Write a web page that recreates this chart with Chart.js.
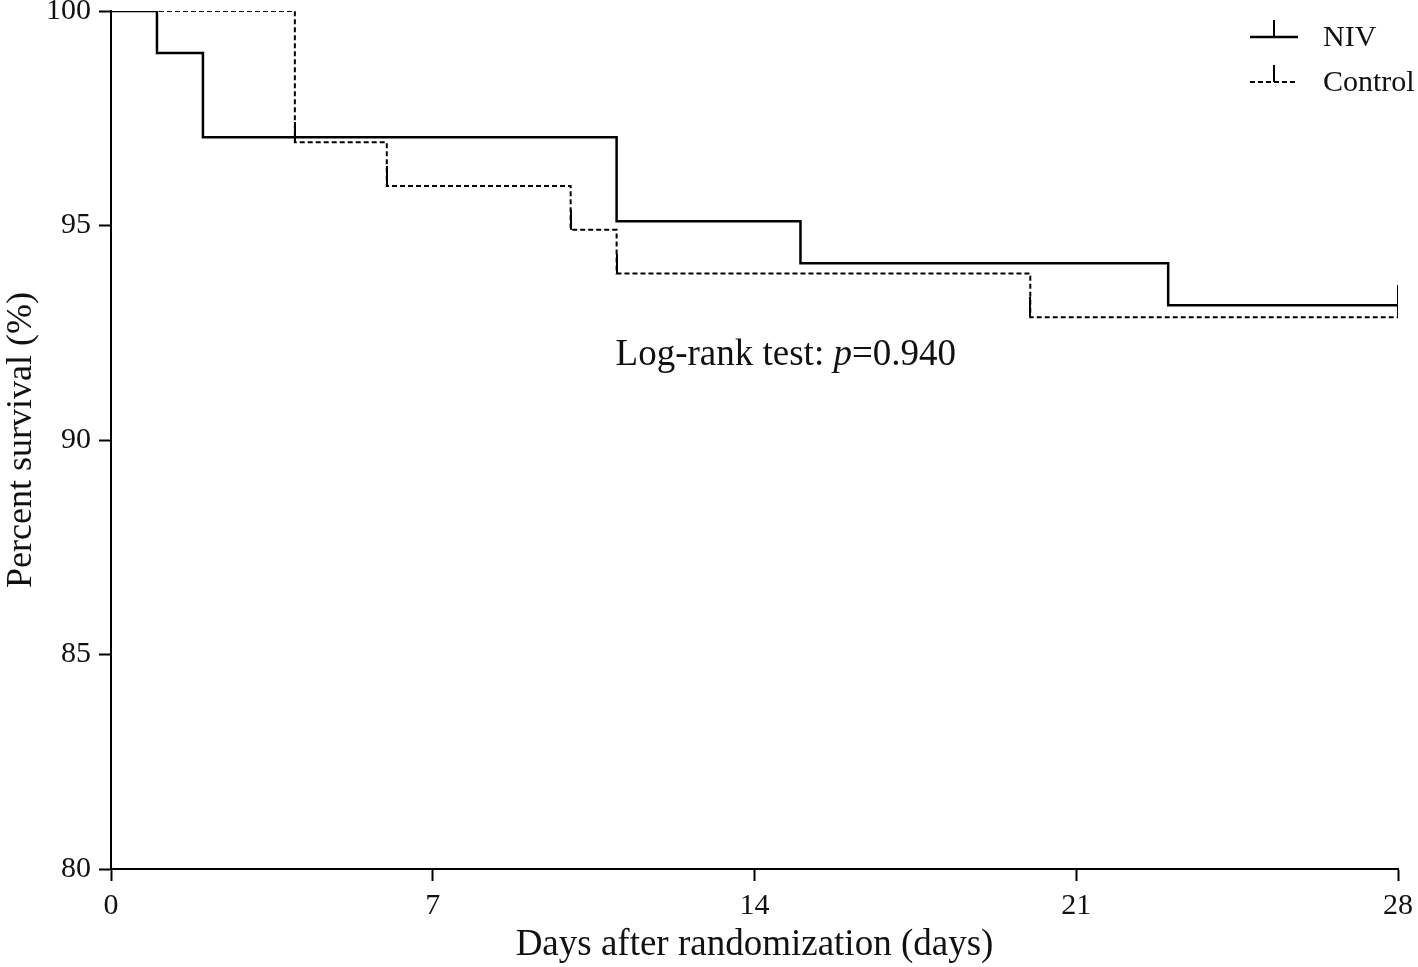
<!DOCTYPE html>
<html>
<head>
<meta charset="utf-8">
<script src="https://cdn.jsdelivr.net/npm/chart.js@4.4.1/dist/chart.umd.min.js"></script>
<style>
  html, body { margin: 0; padding: 0; background: #ffffff; }
  #wrap { width: 1418px; height: 967px; position: relative; }
</style>
</head>
<body>
<div id="wrap"><canvas id="c" width="1418" height="967"></canvas></div>
<script>
// ---- Data ----
const nivDays      = [0, 1, 2, 11, 15, 23, 28];
const nivSurvival  = [100, 99.02, 97.06, 95.10, 94.12, 93.14, 93.14];
const ctlDays      = [0, 4, 6, 10, 11, 20, 28];
const ctlSurvival  = [100, 96.94, 95.92, 94.90, 93.88, 92.86, 92.86];
const nivCensorDays = [28];
const ctlCensorDays = [4, 6, 10, 11, 20, 28];
const xTicks = [0, 7, 14, 21, 28];
const yTicks = [80, 85, 90, 95, 100];
const seriesLabels = ['NIV', 'Control'];
const annotationText = ['Log-rank test: ', 'p', '=0.940'];

const SERIF = '"Liberation Serif", "Times New Roman", serif';

function kmValue(days, surv, d) {
  let v = surv[0];
  for (let i = 0; i < days.length; i++) if (days[i] <= d) v = surv[i];
  return v;
}

// upward censor tick image
function censorImage() {
  const c = document.createElement('canvas');
  c.width = 2; c.height = 40;
  const g = c.getContext('2d');
  g.fillStyle = '#000';
  g.fillRect(0, 0, 2, 20);
  return c;
}
const tickImg = censorImage();

const legendPlugin = {
  id: 'kmLegend',
  afterDraw(chart) {
    const ctx = chart.ctx;
    const items = chart.data.datasets.filter(d => d.isMain);
    const x0 = 1250, x1 = 1298, tx = 1323;
    const ys = [37, 82];
    ctx.save();
    items.forEach((ds, i) => {
      const y = ys[i];
      ctx.strokeStyle = '#000';
      ctx.lineWidth = ds.borderWidth;
      ctx.setLineDash(ds.borderDash || []);
      ctx.beginPath(); ctx.moveTo(x0, y); ctx.lineTo(x1, y); ctx.stroke();
      ctx.setLineDash([]);
      ctx.lineWidth = 2;
      ctx.beginPath(); ctx.moveTo(1274, y); ctx.lineTo(1274, y - 17); ctx.stroke();
      ctx.fillStyle = '#111';
      ctx.font = '30px ' + SERIF;
      ctx.textBaseline = 'middle';
      ctx.textAlign = 'left';
      ctx.fillText(ds.label, tx, y + 1);
    });
    ctx.restore();
  }
};

const annotationPlugin = {
  id: 'logrank',
  afterDraw(chart) {
    const ctx = chart.ctx;
    const xs = chart.scales.x, ys = chart.scales.y;
    let x = xs.getPixelForValue(11) - 1;
    const y = ys.getPixelForValue(91.75);
    ctx.save();
    ctx.fillStyle = '#111';
    ctx.textBaseline = 'alphabetic';
    ctx.textAlign = 'left';
    const fonts = ['37px ' + SERIF, 'italic 37px ' + SERIF, '37px ' + SERIF];
    annotationText.forEach((t, i) => {
      ctx.font = fonts[i];
      ctx.fillText(t, x, y);
      x += ctx.measureText(t).width;
    });
    ctx.restore();
  }
};

const ctx = document.getElementById('c').getContext('2d');
new Chart(ctx, {
  type: 'line',
  data: {
    datasets: [
      {
        label: seriesLabels[0], isMain: true,
        data: nivDays.map((d, i) => ({ x: d, y: nivSurvival[i] })),
        stepped: true, borderColor: '#000', borderWidth: 2.5,
        pointRadius: 0, fill: false
      },
      {
        label: seriesLabels[1], isMain: true,
        data: ctlDays.map((d, i) => ({ x: d, y: ctlSurvival[i] })),
        stepped: true, borderColor: '#000', borderWidth: 2, borderDash: [5, 3],
        pointRadius: 0, fill: false
      },
      {
        label: 'NIV censored', isMain: false, showLine: false,
        data: nivCensorDays.map(d => ({ x: d, y: kmValue(nivDays, nivSurvival, d) })),
        pointStyle: tickImg, pointRadius: 10
      },
      {
        label: 'Control censored', isMain: false, showLine: false,
        data: ctlCensorDays.map(d => ({ x: d, y: kmValue(ctlDays, ctlSurvival, d) })),
        pointStyle: tickImg, pointRadius: 10
      }
    ]
  },
  options: {
    responsive: false,
    animation: false,
    events: [],
    layout: { padding: 0 },
    plugins: { legend: { display: false }, tooltip: { enabled: false } },
    scales: {
      x: {
        type: 'linear', min: 0, max: 28,
        afterBuildTicks(s) { s.ticks = xTicks.map(v => ({ value: v })); },
        afterFit(s) { s.height = 98; s.paddingLeft = 0; s.paddingRight = 20; },
        border: { display: true, color: '#000', width: 2 },
        grid: { drawOnChartArea: false, drawTicks: true, tickLength: 12, tickColor: '#000', tickWidth: 2 },
        ticks: { color: '#111', font: { family: SERIF, size: 30 }, padding: 7, maxRotation: 0 },
        title: { display: true, text: 'Days after randomization (days)', color: '#111',
                 font: { family: SERIF, size: 37 }, padding: { top: 0, bottom: 0 } }
      },
      y: {
        type: 'linear', min: 80, max: 100,
        afterBuildTicks(s) { s.ticks = yTicks.map(v => ({ value: v })); },
        afterFit(s) { s.width = 111; s.paddingTop = 11; s.paddingBottom = 0; },
        border: { display: true, color: '#000', width: 2 },
        grid: { drawOnChartArea: false, drawTicks: true, tickLength: 12, tickColor: '#000', tickWidth: 2 },
        ticks: { color: '#111', font: { family: SERIF, size: 30, lineHeight: 0.8 }, padding: 8 },
        title: { display: true, text: 'Percent survival (%)', color: '#111',
                 font: { family: SERIF, size: 36 }, padding: { top: 0, bottom: 0 } }
      }
    }
  },
  plugins: [legendPlugin, annotationPlugin]
});
</script>
</body>
</html>
